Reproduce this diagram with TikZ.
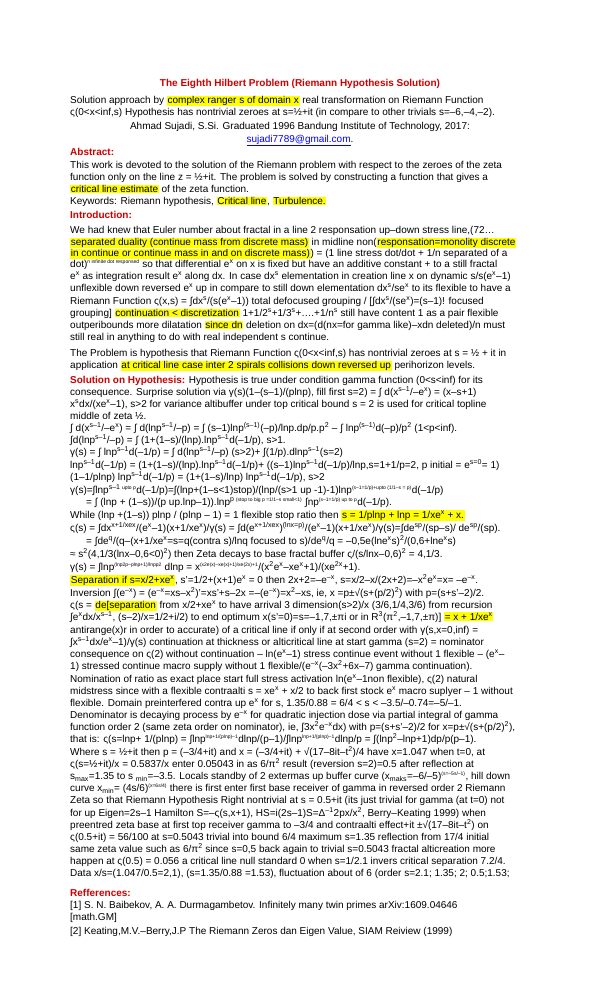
\documentclass[tikz,border=0pt]{standalone}
\usepackage{fontspec}
\setmainfont{Liberation Sans}
\usepackage{xcolor}
\definecolor{hly}{RGB}{255,255,0}
\definecolor{hred}{RGB}{204,0,0}
\newcommand\su[1]{\textsuperscript{#1}}
\newcommand\sd[1]{\textsubscript{#1}}
\newcommand\hy[1]{{\fboxsep=0.7pt\colorbox{hly}{#1}}}
\newcommand\rd[1]{{\bfseries\color{hred}#1}}
\tikzset{txt/.style={anchor=base west,inner sep=0pt,font=\fontsize{10}{12}\selectfont}}
\newcommand\Ln[3]{\node[txt] (#1) at (70,-#2-3.5) {#3};}
\begin{document}
\begin{tikzpicture}[x=1pt,y=1pt]
\path[fill=white,use as bounding box] (0,0) rectangle (600,-988);
\node[txt,anchor=base] (title) at (300,-86) {\rd{The Eighth Hilbert Problem (Riemann Hypothesis Solution)}};
\Ln{l2}{100}{Solution approach by \hy{complex ranger s of domain x} real transformation on Riemann Function}
\Ln{l3}{112}{ς(0<x<inf,s) Hypothesis has nontrivial zeroes at s=½+it (in compare to other trivials s=–6,–4,–2).}
\node[txt,anchor=base] (l4) at (300,-129.5) {Ahmad Sujadi, S.Si. Graduated 1996 Bandung Institute of Technology, 2017:};
\node[txt,anchor=base] (l5) at (300,-142) {\textcolor{blue}{\underline{sujadi7789@gmail.com}}.};
\Ln{l6}{152}{\rd{Abstract:}}
\Ln{l7}{165}{This work is devoted to the solution of the Riemann problem with respect to the zeroes of the zeta}
\Ln{l8}{177}{function only on the line z = ½+it. The problem is solved by constructing a function that gives a}
\Ln{l9}{189}{\hy{critical line estimate} of the zeta function.}
\Ln{l10}{201}{Keywords: Riemann hypothesis, \hy{Critical line}, \hy{Turbulence.}}
\Ln{l11}{215}{\rd{Introduction:}}
\Ln{l12}{230}{We had knew that Euler number about fractal in a line  2 responsation up–down stress line,(72…}
\Ln{l13}{242}{\hy{separated duality (continue mass from discrete mass)} in midline non(\hy{responsation=monolity discrete}}
\Ln{l14}{253}{\hy{in continue or continue mass in and on discrete mass)}) = (1 line stress dot/dot + 1/n separated of a}
\Ln{l15}{264}{dot)\su{\tiny n infinite dot responsed} so that differential e\su{x} on x is fixed but have an additive constant + to a still fractal}
\Ln{l16}{276}{e\su{x} as integration result e\su{x} along dx. In case dx\su{s} elementation in creation line x on dynamic s/s(e\su{x}–1)}
\Ln{l17}{288}{unflexible down reversed e\su{x} up in compare to still down elementation dx\su{s}/se\su{x} to its flexible to have a}
\Ln{l18}{301}{Riemann Function  ς(x,s) = ∫dx\su{s}/(s(e\su{x}–1)) total defocused grouping / [∫dx\su{s}/(se\su{x})=(s–1)! focused}
\Ln{l19}{313}{grouping] \hy{continuation < discretization} 1+1/2\su{s}+1/3\su{s}+….+1/n\su{s}  still have content 1 as a pair flexible}
\Ln{l20}{325}{outperibounds more dilatation \hy{since dn} deletion on dx=(d(nx=for gamma like)–xdn deleted)/n must}
\Ln{l21}{337}{still real in anything to do with real independent s continue.}
\Ln{l22}{353}{The Problem is hypothesis that Riemann Function ς(0<x<inf,s) has nontrivial zeroes at s = ½ + it in}
\Ln{l23}{365}{application \hy{at critical line case inter 2 spirals collisions down reversed up} perihorizon levels.}
\Ln{l24}{380}{\rd{Solution on Hypothesis:} Hypothesis is true under condition gamma function (0<s<inf) for its}
\Ln{l25}{392}{consequence. Surprise solution via γ(s)(1–(s–1)/(plnp), fill first s=2) = ∫ d(x\su{s–1}/–e\su{x}) = (x–s+1)}
\Ln{l26}{404}{x\su{s}dx/(xe\su{x}–1), s>2  for variance altibuffer under top critical bound s = 2 is used for critical topline}
\Ln{l27}{416}{middle of zeta ½.}
\Ln{l28}{428}{∫ d(x\su{s–1}/–e\su{x}) = ∫ d(lnp\su{s–1}/–p) = ∫ (s–1)lnp\su{(s–1)}(–p)/lnp.dp/p.p\su{2} – ∫ lnp\su{(s–1)}d(–p)/p\su{2} (1<p<inf).}
\Ln{l29}{440}{∫d(lnp\su{s–1}/–p) = ∫ (1+(1–s)/(lnp).lnp\su{s–1}d(–1/p), s>1.}
\Ln{l30}{452}{γ(s) = ∫ lnp\su{s–1}d(–1/p) = ∫ d(lnp\su{s–1}/–p) (s>2)+ ∫(1/p).dlnp\su{s–1}(s=2)}
\Ln{l31}{465}{lnp\su{s–1}d(–1/p) = (1+(1–s)/(lnp).lnp\su{s–1}d(–1/p)+ ((s–1)lnp\su{s–1}d(–1/p)/lnp,s=1+1/p=2, p initial = e\su{s=0}= 1)}
\Ln{l32}{477}{(1–1/plnp) lnp\su{s–1}d(–1/p) = (1+(1–s)/lnp) lnp\su{s–1}d(–1/p), s>2}
\Ln{l33}{490}{γ(s)=∫lnp\su{s–1 \tiny upto p}d(–1/p)=∫(lnp+(1–s<1)stop)/(lnp/(s>1 up -1)-1)lnp\su{\tiny(s–1=1/p)+upto (1/1–s = p)}d(–1/p)}
\Ln{l34}{502}{\hspace{16pt}= ∫ (lnp + (1–s))/(p up.lnp–1)).lnp\su{p \tiny (stop to big p =1/1–s small<1)} ∫np\su{\tiny(s–1=1/p) up to p}d(–1/p).}
\Ln{l35}{515}{While (lnp +(1–s)) plnp / (plnp – 1) = 1 flexible stop ratio then  \hy{s = 1/plnp + lnp = 1/xe\su{x} + x.}}
\Ln{l36}{528}{ς(s) = ∫dx\su{x+1/xex}/(e\su{x}–1)(x+1/xe\su{x})/γ(s) = ∫d(e\su{x+1/xex})\su{(lnx=p)}/(e\su{x}–1)(x+1/xe\su{x})/γ(s)=∫de\su{sp}/(sp–s)/ de\su{sp}/(sp).}
\Ln{l37}{541}{\hspace{16pt}= ∫de\su{q}/(q–(x+1/xe\su{x}=s=q(contra s)/lnq focused to s)/de\su{q}/q = –0,5e(lne\su{x}s)\su{2}/(0,6+lne\su{x}s)}
\Ln{l38}{554}{≈ s\su{2}(4,1/3(lnx–0,6<0)\su{2}) then Zeta decays to base fractal buffer  ς/(s/lnx–0,6)\su{2} = 4,1/3.}
\Ln{l39}{567}{γ(s) = ∫lnp\su{\tiny(lnp2p–plnp+1)/lnpp2} dlnp = x\su{\tiny(x2e(x)–xe(x)+1)/xe(2x)+1}/(x\su{2}e\su{x}–xe\su{x}+1)/(xe\su{2x}+1).}
\Ln{l40}{580}{\hy{Separation if s=x/2+xe\su{x}}, s'=1/2+(x+1)e\su{x} = 0 then 2x+2=–e\su{–x}, s=x/2–x/(2x+2)=–x\su{2}e\su{x}=x= –e\su{–x}.}
\Ln{l41}{593}{Inversion ∫(e\su{–x}) = (e\su{–x}=xs–x\su{2})'=xs'+s–2x =–(e\su{–x})=x\su{2}–xs, ie, x =p±√(s+(p/2)\su{2}) with p=(s+s'–2)/2.}
\Ln{l42}{605}{ς(s = \hy{de[separation} from x/2+xe\su{x}  to have arrival 3 dimension(s>2)/x (3/6,1/4,3/6) from recursion}
\Ln{l43}{617}{∫e\su{x}dx/x\su{s–1}, (s–2)/x=1/2+i/2) to end optimum x(s'=0)=s=–1,7,±πi or in R\su{3}(π\su{2},–1,7,±π)] \hy{= x + 1/xe\su{x}}}
\Ln{l44}{630}{antirange(x)r in order to accurate) of a critical line if only if at second order with γ(s,x=0,inf) =}
\Ln{l45}{642}{∫x\su{s–1}dx/e\su{x}–1)/γ(s) continuation at thickness or alticritical line at start gamma (s=2) = nominator}
\Ln{l46}{654}{consequence  on ς(2) without continuation – ln(e\su{x}–1) stress continue event without 1 flexible  – (e\su{x}–}
\Ln{l47}{666}{1) stressed continue macro supply without 1 flexible/(e\su{–x}(–3x\su{2}+6x–7) gamma continuation).}
\Ln{l48}{679}{Nomination of ratio as exact place start full stress activation ln(e\su{x}–1non flexible), ς(2) natural}
\Ln{l49}{691}{midstress since with a flexible contraalti s = xe\su{x} + x/2 to back first stock e\su{x} macro suplyer – 1 without}
\Ln{l50}{703}{flexible. Domain preinterfered contra up e\su{x} for s, 1.35/0.88 = 6/4 < s < –3.5/–0.74=–5/–1.}
\Ln{l51}{715}{Denominator is decaying process by e\su{–x} for quadratic injection dose via partial integral of gamma}
\Ln{l52}{727}{function order 2 (same zeta order on nominator), ie, ∫3x\su{2}e\su{–x}dx) with p=(s+s'–2)/2 for  x=p±√(s+(p/2)\su{2}),}
\Ln{l53}{739}{that is: ς(s=lnp+ 1/(plnp) = ∫lnp\su{\tiny lnp+1/(plnp)–1}dlnp/(p–1)/∫lnp\su{\tiny lnp+1/(plnp)–1}dlnp/p = ∫(lnp\su{2}–lnp+1)dp/p(p–1).}
\Ln{l54}{752}{Where s = ½+it then p = (–3/4+it) and x = (–3/4+it) + √(17–8it–t\su{2})/4 have x=1.047 when t=0, at}
\Ln{l55}{764}{ς(s=½+it)/x = 0.5837/x  enter 0.05043 in as 6/π\su{2} result (reversion s=2)=0.5 after reflection at}
\Ln{l56}{776}{s\sd{max}=1.35 to s \sd{min}=–3.5. Locals standby of 2 extermas up buffer curve (x\sd{maks}=–6/–5)\su{\tiny(s=–5s/–1)}, hill down}
\Ln{l57}{788}{curve  x\sd{min}= (4s/6)\su{\tiny(x=6s/4)} there is first enter first base receiver of gamma in reversed order 2 Riemann}
\Ln{l58}{800}{Zeta so that Riemann Hypothesis Right nontrivial at s = 0.5+it (its just trivial for gamma (at t=0) not}
\Ln{l59}{813}{for up Eigen=2s–1 Hamilton S=–ς(s,x+1), HS=i(2s–1)S=Δ\su{–1}2px/x\su{2}, Berry–Keating 1999) when}
\Ln{l60}{825}{preentred zeta base at first top receiver gamma to –3/4 and contraalti effect+it ±√(17–8it–t\su{2}) on}
\Ln{l61}{837}{ς(0.5+it) = 56/100 at s=0.5043 trivial into bound 6/4 maximum s=1.35 reflection from 17/4 initial}
\Ln{l62}{849}{same zeta value such as 6/π\su{2} since s=0,5 back again to trivial s=0.5043 fractal alticreation more}
\Ln{l63}{861}{happen at ς(0.5) = 0.056 a critical line null standard 0 when s=1/2.1 invers critical separation 7.2/4.}
\Ln{l64}{873}{Data x/s=(1.047/0.5=2,1), (s=1.35/0.88 =1.53), fluctuation about of 6 (order s=2.1; 1.35; 2; 0.5;1.53;}
\Ln{l65}{893}{\rd{Refferences:}}
\Ln{l66}{905}{[1] S. N. Baibekov, A. A. Durmagambetov. Infinitely many twin primes arXiv:1609.04646}
\Ln{l67}{917}{[math.GM]}
\Ln{l68}{931}{[2] Keating,M.V.–Berry,J.P The Riemann Zeros dan Eigen Value, SIAM Reiview (1999)}
\end{tikzpicture}
\end{document}
